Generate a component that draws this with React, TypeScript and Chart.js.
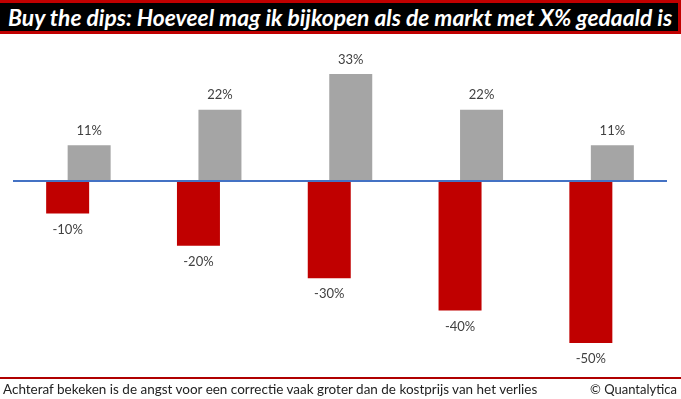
import React, { useEffect, useLayoutEffect, useRef } from "react";
import { Chart, registerables } from "chart.js";

Chart.register(...registerables);

const categories = ["-10%", "-20%", "-30%", "-40%", "-50%"];
const dropValues = [-10, -20, -30, -40, -50];
const buyValues = [11, 22, 33, 22, 11];
const titleText = "Buy the dips: Hoeveel mag ik bijkopen als de markt met X% gedaald is";
const footerLeft = "Achteraf bekeken is de angst voor een correctie vaak groter dan de kostprijs van het verlies";
const footerRight = "© Quantalytica";

const zeroLinePlugin = {
  id: "zeroLine",
  afterDatasetsDraw(chart: any) {
    const { ctx, chartArea, scales } = chart;
    const y = scales.y.getPixelForValue(0);
    ctx.save();
    ctx.strokeStyle = "#4472C4";
    ctx.lineWidth = 2;
    ctx.beginPath();
    ctx.moveTo(chartArea.left, y);
    ctx.lineTo(chartArea.right, y);
    ctx.stroke();
    ctx.restore();
  },
};

const labelPlugin = {
  id: "barLabels",
  afterDraw(chart: any) {
    const { ctx } = chart;
    ctx.save();
    ctx.font = "13px Lato";
    ctx.fillStyle = "#404040";
    ctx.textAlign = "center";
    ctx.textBaseline = "middle";
    chart.data.datasets.forEach((ds: any, di: number) => {
      const meta = chart.getDatasetMeta(di);
      meta.data.forEach((bar: any, i: number) => {
        const v = ds.data[i];
        const y = v >= 0 ? bar.y - 14.5 : bar.y + 16;
        ctx.fillText(v + "%", bar.x, y);
      });
    });
    ctx.restore();
  },
};

function FitText({ text, width, style }: { text: string; width: number; style: React.CSSProperties }) {
  const ref = useRef<HTMLSpanElement>(null);
  useLayoutEffect(() => {
    const el = ref.current;
    if (!el) return;
    const w = el.offsetWidth;
    if (w > 0) el.style.transform = `scaleX(${width / w})`;
  }, [text, width]);
  return (
    <span
      ref={ref}
      style={{ display: "inline-block", whiteSpace: "nowrap", transformOrigin: "left center", ...style }}
    >
      {text}
    </span>
  );
}

export default function App() {
  const canvasRef = useRef<HTMLCanvasElement>(null);

  useEffect(() => {
    if (!canvasRef.current) return;
    const chart = new Chart(canvasRef.current, {
      type: "bar",
      data: {
        labels: categories,
        datasets: [
          {
            label: "Daling",
            data: dropValues,
            backgroundColor: "#C00000",
            categoryPercentage: 0.3287,
            barPercentage: 2.0,
          },
          {
            label: "Bijkopen",
            data: buyValues,
            backgroundColor: "#A5A5A5",
            categoryPercentage: 0.3287,
            barPercentage: 2.0,
          },
        ],
      },
      options: {
        animation: false,
        responsive: false,
        maintainAspectRatio: false,
        layout: { padding: { left: 13, right: 14, top: 51.4, bottom: 39.8 } },
        plugins: {
          legend: { display: false },
          title: { display: false },
          tooltip: { enabled: false },
        },
        scales: {
          x: { display: false },
          y: { display: false, min: -55, max: 40 },
        },
      },
      plugins: [zeroLinePlugin, labelPlugin],
    });
    return () => chart.destroy();
  }, []);

  return (
    <div
      style={{
        position: "fixed",
        left: 0,
        top: 0,
        width: 681,
        height: 399,
        background: "#fff",
        overflow: "hidden",
      }}
    >
      <canvas
        ref={canvasRef}
        width={681}
        height={399}
        style={{ position: "absolute", left: 0, top: 0, width: 681, height: 399 }}
      />
      <div
        style={{
          position: "absolute",
          left: 0,
          top: 0,
          width: 681,
          height: 34,
          boxSizing: "border-box",
          background: "#000",
          borderTop: "3px solid #C00000",
          borderBottom: "3px solid #C00000",
          borderRight: "3px solid #C00000",
        }}
      >
        <div style={{ position: "absolute", left: 8, top: 0, height: 28, lineHeight: "28px" }}>
          <FitText
            text={titleText}
            width={664}
            style={{ color: "#fff", fontFamily: "Lato", fontWeight: 700, fontStyle: "italic", fontSize: 23 }}
          />
        </div>
      </div>
      <div
        style={{ position: "absolute", left: 0, top: 377, width: 681, height: 2, background: "#B00000" }}
      />
      <div style={{ position: "absolute", left: 3, top: 380, height: 18, lineHeight: "18px" }}>
        <FitText
          text={footerLeft}
          width={534}
          style={{ color: "#222", fontFamily: "Lato", fontSize: 13 }}
        />
      </div>
      <div style={{ position: "absolute", left: 590, top: 380, height: 18, lineHeight: "18px" }}>
        <FitText
          text={footerRight}
          width={87}
          style={{ color: "#222", fontFamily: "Lato", fontSize: 13 }}
        />
      </div>
    </div>
  );
}
